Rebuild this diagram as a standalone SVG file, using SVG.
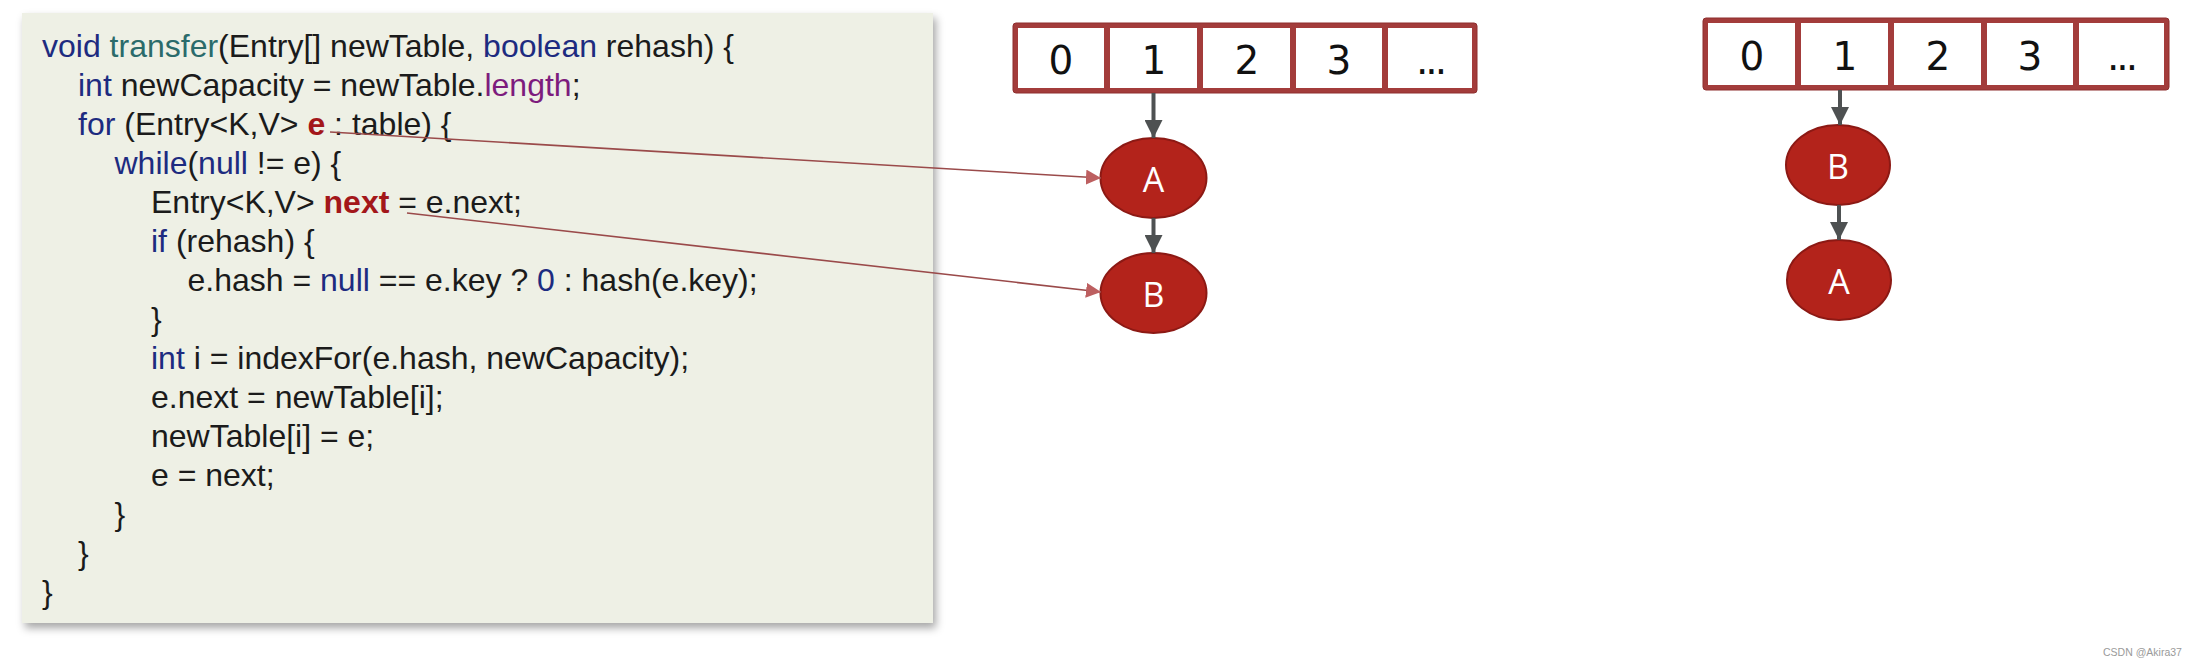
<svg xmlns="http://www.w3.org/2000/svg" width="2210" height="666" viewBox="0 0 2210 666">
<style>
.code{font-family:"Liberation Sans",Arial,sans-serif;font-size:32px;fill:#1b1b1b;white-space:pre}
.kw{fill:#1d2b80}
.fn{fill:#2b6b6b}
.pu{fill:#7d1c7d}
.rd{fill:#a3171a;font-weight:bold}
.tbl{fill:#a33c3b;stroke:#8e2f2f;stroke-width:1}
.cell{fill:#ffffff}
.dig{font-family:"DejaVu Sans",sans-serif;font-size:39px;fill:#111;text-anchor:middle}
.nd{fill:#b3231b;stroke:#8c1914;stroke-width:2}
.nt{font-family:"Open Sans","Noto Sans",sans-serif;font-size:34px;fill:#fff;text-anchor:middle}
.ga{stroke:#4e5152;stroke-width:4;fill:none}
.ra{stroke:#9a4a4a;stroke-width:1.6;fill:none}
</style>
<defs>
<filter id="sh" x="-5%" y="-5%" width="112%" height="115%">
<feDropShadow dx="3" dy="5" stdDeviation="4" flood-color="#000" flood-opacity="0.35"/>
</filter>
<marker id="mg" markerUnits="userSpaceOnUse" markerWidth="18" markerHeight="18" refX="18" refY="9" orient="auto">
<path d="M0,0 L18,9 L0,18 z" fill="#4e5152"/>
</marker>
<marker id="mr" markerUnits="userSpaceOnUse" markerWidth="15" markerHeight="15" refX="15" refY="7.5" orient="auto">
<path d="M0,0 L15,7.5 L0,15 z" fill="#bd5f60"/>
</marker>
</defs>
<rect width="2210" height="666" fill="#ffffff"/>

<g id="code">
<rect x="22" y="13" width="911" height="610" fill="#eef0e5" filter="url(#sh)"/>
<text class="code" x="42" y="57"><tspan class="kw">void</tspan> <tspan class="fn">transfer</tspan>(Entry[] newTable, <tspan class="kw">boolean</tspan> rehash) {</text>
<text class="code" x="78" y="96"><tspan class="kw">int</tspan> newCapacity = newTable.<tspan class="pu">length</tspan>;</text>
<text class="code" x="78" y="135"><tspan class="kw">for</tspan> (Entry&lt;K,V&gt; <tspan class="rd">e</tspan> : table) {</text>
<text class="code" x="114.5" y="174"><tspan class="kw">while</tspan>(<tspan class="kw">null</tspan> != e) {</text>
<text class="code" x="151" y="213">Entry&lt;K,V&gt; <tspan class="rd">next</tspan> = e.next;</text>
<text class="code" x="151" y="252"><tspan class="kw">if</tspan> (rehash) {</text>
<text class="code" x="187.5" y="291">e.hash = <tspan class="kw">null</tspan> == e.key ? <tspan class="kw">0</tspan> : hash(e.key);</text>
<text class="code" x="151" y="330">}</text>
<text class="code" x="151" y="369"><tspan class="kw">int</tspan> i = indexFor(e.hash, newCapacity);</text>
<text class="code" x="151" y="408">e.next = newTable[i];</text>
<text class="code" x="151" y="447">newTable[i] = e;</text>
<text class="code" x="151" y="486">e = next;</text>
<text class="code" x="114.5" y="525">}</text>
<text class="code" x="78" y="564">}</text>
<text class="code" x="42" y="603">}</text>
</g>

<g id="table1">
<rect class="tbl" x="1013" y="23" width="464" height="70" rx="3"/>
<rect class="cell" x="1018" y="28" width="86" height="60"/>
<rect class="cell" x="1110" y="28" width="87" height="60"/>
<rect class="cell" x="1203" y="28" width="87" height="60"/>
<rect class="cell" x="1296" y="28" width="86" height="60"/>
<rect class="cell" x="1388" y="28" width="84" height="60"/>
<text class="dig" x="1061" y="74">0</text>
<text class="dig" x="1154" y="74">1</text>
<text class="dig" x="1247" y="74">2</text>
<text class="dig" x="1339" y="74">3</text>
<text class="dig" x="1430" y="74" letter-spacing="-3">...</text>
</g>

<g id="nodeA1">
<ellipse class="nd" cx="1153.5" cy="178" rx="53" ry="40"/>
<text class="nt" x="1153.5" y="192">A</text>
</g>
<g id="nodeB1">
<ellipse class="nd" cx="1153.5" cy="293" rx="53" ry="40"/>
<text class="nt" x="1153.5" y="307">B</text>
</g>

<g id="table2">
<rect class="tbl" x="1703" y="18" width="466" height="72" rx="3"/>
<rect class="cell" x="1708" y="23" width="87" height="62"/>
<rect class="cell" x="1801" y="23" width="87" height="62"/>
<rect class="cell" x="1894" y="23" width="87" height="62"/>
<rect class="cell" x="1987" y="23" width="86" height="62"/>
<rect class="cell" x="2079" y="23" width="85" height="62"/>
<text class="dig" x="1752" y="70">0</text>
<text class="dig" x="1845" y="70">1</text>
<text class="dig" x="1938" y="70">2</text>
<text class="dig" x="2030" y="70">3</text>
<text class="dig" x="2121" y="70" letter-spacing="-3">...</text>
</g>

<g id="nodeB2">
<ellipse class="nd" cx="1838" cy="165" rx="52" ry="40"/>
<text class="nt" x="1838" y="179">B</text>
</g>
<g id="nodeA2">
<ellipse class="nd" cx="1839" cy="280" rx="52" ry="40"/>
<text class="nt" x="1839" y="294">A</text>
</g>

<g id="connectors">
<line class="ga" x1="1153.5" y1="93" x2="1153.5" y2="138" marker-end="url(#mg)"/>
<line class="ga" x1="1153.5" y1="218" x2="1153.5" y2="253" marker-end="url(#mg)"/>
<line class="ga" x1="1840" y1="90" x2="1840" y2="125" marker-end="url(#mg)"/>
<line class="ga" x1="1839" y1="205" x2="1839" y2="240" marker-end="url(#mg)"/>
<line class="ra" x1="330" y1="132" x2="1101" y2="178" marker-end="url(#mr)"/>
<line class="ra" x1="407" y1="213" x2="1101" y2="292" marker-end="url(#mr)"/>
</g>

<text x="2103" y="656" font-family="Liberation Sans,Arial,sans-serif" font-size="10.5" fill="#9a9a9a">CSDN @Akira37</text>
</svg>
